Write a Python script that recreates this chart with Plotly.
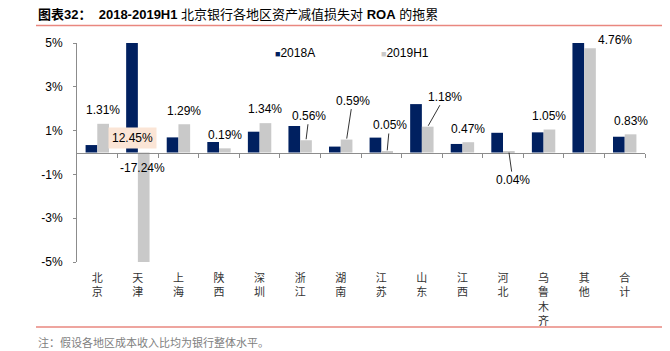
import plotly.graph_objects as go

# ---------------- data ----------------
categories = ["北京", "天津", "上海", "陕西", "深圳", "浙江", "湖南", "江苏",
              "山东", "江西", "河北", "乌鲁木齐", "其他", "合计"]
roa_2018a = [0.34, 12.45, 0.69, 0.48, 0.95, 1.21, 0.27, 0.68, 2.21, 0.39, 0.90, 0.92, 5.10, 0.72]
roa_2019h1 = [1.31, -17.24, 1.29, 0.19, 1.34, 0.56, 0.59, 0.05, 1.18, 0.47, 0.04, 1.05, 4.76, 0.83]
series_names = ["2018A", "2019H1"]
y_ticks = [-5, -3, -1, 1, 3, 5]
y_tick_labels = ["-5%", "-3%", "-1%", "1%", "3%", "5%"]
title_bold = "图表32："
title_rest = "2018-2019H1"
footnote = "注：假设各地区成本收入比均为银行整体水平。"

# ---------------- style ----------------
NAVY = "#002060"
GRAY = "#C9C9C9"
AXIS = "#8C8C8C"
RED = "#E9877F"
FONT = "Liberation Sans, Arial, Noto Sans CJK SC, sans-serif"
CJK = "Noto Sans CJK SC, sans-serif"

W, H = 670, 351
L, R, T, B = 77, 25, 43, 89
PW, PH = W - L - R, H - T - B
Y_MIN, Y_MAX = -5, 5
BARGAP = 0.423
OFF = (1 - BARGAP) / 4  # centre offset of each bar in its group


def px_x(x):
    return (x - L) / PW


def px_y(y):
    return (H - B - y) / PH


# label placement for 2019H1 labels: (dx px, dy px above bar end, leader line)
label_place = [(0, 13.5, False), (-1, -15.5, False), (0, 13.5, False), (0, 13.3, False),
               (0, 14, False), (3, 24.5, True), (6, 39, True), (2.4, 26.4, True),
               (17, 30, True), (0, 13.2, False), (4, -28.5, True), (0, 13.5, False),
               (25, 8, False), (0, 13.6, False)]

tick_text = ["<br>".join(list(c)) for c in categories]

fig = go.Figure()
fig.add_trace(go.Bar(x=categories, y=roa_2018a, name=series_names[0],
                     marker=dict(color=NAVY, line=dict(width=0)), showlegend=False,
                     hoverinfo="skip"))
fig.add_trace(go.Bar(x=categories, y=roa_2019h1, name=series_names[1],
                     marker=dict(color=GRAY, line=dict(width=0)), showlegend=False,
                     hoverinfo="skip"))
# carrier trace for the zero-line axis
fig.add_trace(go.Scatter(x=[None], y=[None], xaxis="x2", showlegend=False,
                         hoverinfo="skip", mode="markers"))

annotations = []
for i, v in enumerate(roa_2019h1):
    dx, dy, leader = label_place[i]
    base = v if Y_MIN <= v <= Y_MAX else 0
    txt = f"{v:.2f}%"
    if leader:
        annotations.append(dict(x=i + OFF, y=base, xref="x", yref="y", text=txt,
                                showarrow=True, arrowhead=0, arrowwidth=0.8,
                                arrowcolor="#000000", ax=dx, ay=-dy, standoff=1,
                                font=dict(size=12, color="#000000", family=FONT)))
    else:
        annotations.append(dict(x=i + OFF, y=base, xref="x", yref="y", text=txt,
                                showarrow=False, xshift=dx, yshift=dy, yanchor="middle",
                                font=dict(size=12, color="#000000", family=FONT)))

# label of the clipped 2018A Tianjin bar
tj = categories.index("天津")
annotations.append(dict(x=tj - OFF, y=0, xref="x", yref="y", text=f"{roa_2018a[tj]:.2f}%",
                        showarrow=False, yshift=14.5, yanchor="middle", bgcolor="#FBE5D6",
                        borderpad=3, font=dict(size=12, color="#000000", family=FONT)))

# legend
for name, col, xl in [(series_names[0], NAVY, 273), (series_names[1], GRAY, 379)]:
    annotations.append(dict(x=px_x(xl), y=px_y(52.5), xref="paper", yref="paper",
                            xanchor="left", yanchor="middle", showarrow=False,
                            text=f"<span style='color:{col};font-size:9px'>■</span>{name}",
                            font=dict(size=12, color="#000000", family=FONT)))

# title
annotations.append(dict(x=px_x(36), y=px_y(14), xref="paper", yref="paper",
                        xanchor="left", yanchor="middle", showarrow=False,
                        text=f"<b>{title_bold}</b>  <b>{title_rest}</b> 北京银行各地区资产减值损失对 <b>ROA</b> 的拖累",
                        font=dict(size=13, color="#000000", family=FONT)))
# footnote
annotations.append(dict(x=px_x(36), y=px_y(342), xref="paper", yref="paper",
                        xanchor="left", yanchor="middle", showarrow=False, text=footnote,
                        font=dict(size=11, color="#808080", family=CJK)))

shapes = [
    dict(type="line", xref="paper", yref="paper", x0=px_x(36), x1=px_x(662),
         y0=px_y(25.5), y1=px_y(25.5), line=dict(color=RED, width=1.5)),
    dict(type="line", xref="paper", yref="paper", x0=px_x(36), x1=px_x(662),
         y0=px_y(327), y1=px_y(327), line=dict(color=RED, width=1.5)),
]

n = len(categories)
fig.update_layout(
    width=W, height=H,
    margin=dict(l=L, r=R, t=T, b=B, pad=0),
    paper_bgcolor="white", plot_bgcolor="white",
    barmode="group", bargap=BARGAP, bargroupgap=0,
    font=dict(family=FONT, size=12, color="#000000"),
    showlegend=False,
    xaxis=dict(type="category", categoryorder="array", categoryarray=categories,
               tickmode="array", tickvals=categories, ticktext=tick_text,
               range=[-0.5, n - 0.5], showline=False, ticks="", showgrid=False,
               zeroline=False, tickangle=0, ticklabelstandoff=8,
               tickfont=dict(size=11, color="#333333", family=CJK)),
    xaxis2=dict(overlaying="x", anchor="free", position=(0 - Y_MIN) / (Y_MAX - Y_MIN),
                type="linear", range=[-0.5, n - 0.5],
                tickmode="array", tickvals=[k + 0.5 for k in range(n)],
                showticklabels=False, ticks="outside", ticklen=4, tickcolor=AXIS,
                tickwidth=1, showline=True, linecolor=AXIS, linewidth=1,
                showgrid=False, zeroline=False),
    yaxis=dict(range=[Y_MIN, Y_MAX], tickmode="array", tickvals=y_ticks,
               ticktext=y_tick_labels, showline=True, linecolor=AXIS, linewidth=1,
               ticks="outside", ticklen=3, tickcolor=AXIS, showgrid=False,
               zeroline=False, ticklabelstandoff=8,
               tickfont=dict(size=12, color="#000000", family=FONT)),
    annotations=annotations,
    shapes=shapes,
)

fig.write_html("out.html")
